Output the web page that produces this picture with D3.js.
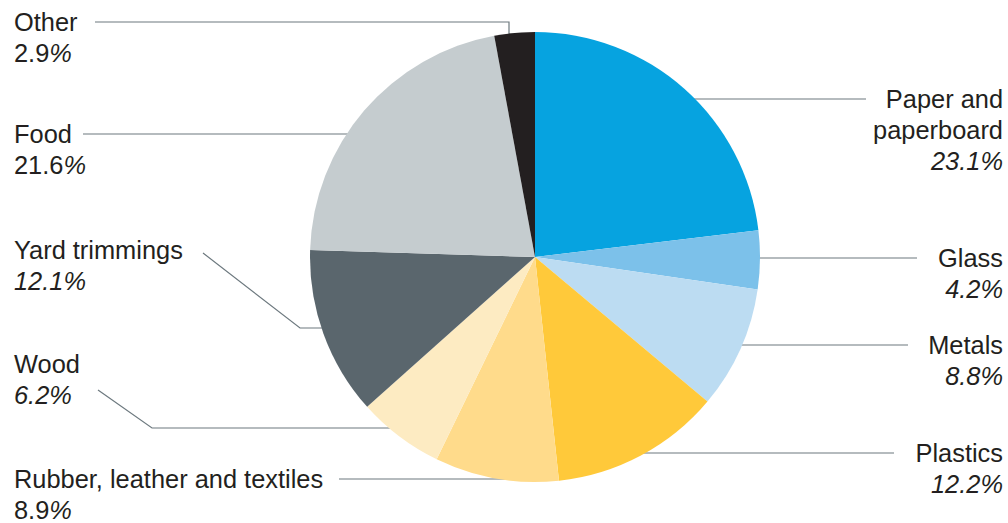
<!DOCTYPE html>
<html><head><meta charset="utf-8">
<script src="https://cdn.jsdelivr.net/npm/d3@7"></script>
<style>html,body{margin:0;padding:0;background:#fff}svg{display:block}</style>
</head><body>
<script>
// ---- data ----
const categories = ["Paper and paperboard","Glass","Metals","Plastics","Rubber, leather and textiles","Wood","Yard trimmings","Food","Other"];
const values = [23.1, 4.2, 8.8, 12.2, 8.9, 6.2, 12.1, 21.6, 2.9];
const labelLines = [["Paper and","paperboard"],["Glass"],["Metals"],["Plastics"],["Rubber, leather and textiles"],["Wood"],["Yard trimmings"],["Food"],["Other"]];
const italicPercent = [true,true,true,true,false,true,true,false,false];
const colors = ["#06a3e0","#7cc1ea","#bcdcf2","#ffc93a","#ffdb8b","#fdebc2","#5a666d","#c5cccf","#231f20"];

// ---- layout (label placement, not data) ----
const labelLayout = [
  {side:"right", y:99,  from:866},
  {side:"right", y:258, from:917},
  {side:"right", y:345, from:908},
  {side:"right", y:453, from:894},
  {side:"left",  y:479, from:339},
  {side:"left",  y:364, from:[98,390], elbow:[152,428]},
  {side:"left",  y:250, from:[203,253], elbow:[300,328]},
  {side:"left",  y:134, from:83},
  {side:"left",  y:22,  from:95, vertical:509}
];

const W=1008,H=523, cx=535, cy=257, R=225;
const svg=d3.select("body").append("svg").attr("width",W).attr("height",H);

const pie=d3.pie().sort(null).value(d=>d);
const arcs=pie(values);
const arc=d3.arc().innerRadius(0).outerRadius(R);

// leader lines (drawn under pie, ending inside the slice)
const gl=svg.append("g").attr("fill","none").attr("stroke","#6d797f").attr("stroke-width",1.2);
labelLayout.forEach((L,i)=>{
  const pts=[];
  let lineY;
  if(Array.isArray(L.from)){ pts.push(L.from); pts.push(L.elbow); lineY=L.elbow[1]; }
  else { pts.push([L.from,L.y]); lineY=L.y; }
  if(L.vertical!==undefined){
    pts.push([L.vertical,L.y]);
    const dx=L.vertical-cx;
    pts.push([L.vertical, cy-Math.sqrt(R*R-dx*dx)+10]);
  } else {
    const dy=lineY-cy, hw=Math.sqrt(Math.max(0,R*R-dy*dy));
    pts.push([L.side==="right"? cx+hw-10 : cx-hw+10, lineY]);
  }
  gl.append("path").attr("d",d3.line()(pts));
});

// pie
svg.append("g").attr("transform",`translate(${cx},${cy})`)
  .selectAll("path").data(arcs).join("path")
  .attr("d",arc).attr("fill",(d,i)=>colors[i]);

// labels
const fs=25.4, lh=31;
const gt=svg.append("g").attr("font-family","'Liberation Sans', Arial, Helvetica, sans-serif")
  .attr("font-size",fs).attr("fill","#231f20");
labelLayout.forEach((L,i)=>{
  const right=L.side==="right";
  const t=gt.append("text").attr("x",right?1003:14).attr("y",L.y+9)
    .attr("text-anchor",right?"end":"start");
  labelLines[i].forEach((s,k)=>{
    t.append("tspan").attr("x",right?1003:14).attr("dy",k===0?0:lh).text(s);
  });
  const num=d3.format(".1f")(values[i]);
  if(italicPercent[i]){
    t.append("tspan").attr("x",right?1003:14).attr("dy",lh).attr("font-style","italic").text(num+"%");
  } else {
    t.append("tspan").attr("x",right?1003:14).attr("dy",lh).text(num);
    t.append("tspan").attr("font-style","italic").text("%");
  }
});
</script>
</body></html>
